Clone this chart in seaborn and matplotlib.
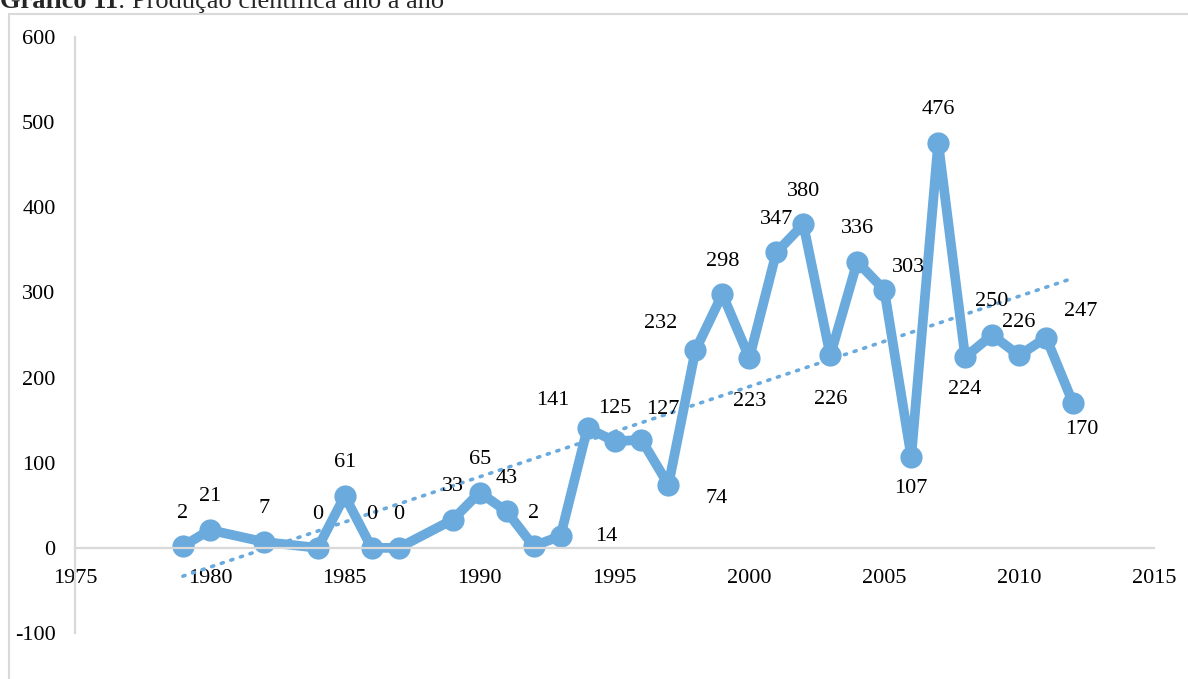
import numpy as np
import pandas as pd
import seaborn as sns
import matplotlib.pyplot as plt
from matplotlib.patches import Rectangle

years = [1979, 1980, 1982, 1984, 1985, 1986, 1987, 1989, 1990, 1991, 1992,
         1993, 1994, 1995, 1996, 1997, 1998, 1999, 2000, 2001, 2002, 2003,
         2004, 2005, 2006, 2007, 2008, 2009, 2010, 2011, 2012]
counts = [2, 21, 7, 0, 61, 0, 0, 33, 65, 43, 2,
          14, 141, 125, 127, 74, 232, 298, 223, 347, 380, 226,
          336, 303, 107, 476, 224, 250, 226, 247, 170]
# where each data label sits relative to its point (Excel-like)
label_pos = ['up', 'up', 'up', 'up', 'up', 'up', 'up', 'up', 'up', 'up', 'up',
             'right', 'upleft', 'up', 'upright2', 'right2', 'upleft', 'up', 'down', 'up', 'up', 'down',
             'up', 'upright', 'down2', 'up', 'down2', 'up', 'up', 'upright3', 'downright']
offsets = {'up': (0, 33), 'down': (0, -44), 'down2': (0, -32), 'right': (46, -1),
           'right2': (48, -14), 'upleft': (-35, 27), 'upright': (24, 22),
           'upright2': (21, 30), 'upright3': (35, 26), 'downright': (9, -26)}

df = pd.DataFrame({'ano': years, 'n': counts})

sns.set_theme(style='white')
plt.rcParams['font.family'] = ['Liberation Serif', 'DejaVu Serif']
plt.rcParams['axes.unicode_minus'] = False
color = '#6aaadd'

fig = plt.figure(figsize=(11.88, 6.79), dpi=100)
ax = fig.add_axes([75 / 1188, 1 - 633 / 679, (1154 - 75) / 1188, (633 - 37) / 679])

sns.regplot(data=df, x='ano', y='n', scatter=False, ci=None, ax=ax, color=color,
            line_kws=dict(linestyle=(0, (0.6, 2.2)), linewidth=2.6, dash_capstyle='round'))
sns.lineplot(data=df, x='ano', y='n', ax=ax, color=color, linewidth=7,
             marker='o', markersize=16, markeredgewidth=0)

for x, y, p in zip(years, counts, label_pos):
    dx, dy = offsets[p]
    ax.annotate(str(y), (x, y), xytext=(dx, dy), textcoords='offset pixels',
                ha='center', va='center', fontsize=16, color='black')

ax.set_xlim(1975, 2015)
ax.set_ylim(-100, 600)
ax.set_xticks(range(1975, 2016, 5))
ax.set_yticks(range(-100, 601, 100))
ax.set_xlabel('')
ax.set_ylabel('')
for s in ['top', 'right']:
    ax.spines[s].set_visible(False)
ax.spines['bottom'].set_position(('data', 0))
for s in ['bottom', 'left']:
    ax.spines[s].set_color('#d9d9d9')
    ax.spines[s].set_linewidth(1.6)
ax.tick_params(axis='x', length=0, pad=15, labelsize=16, labelcolor='black')
ax.tick_params(axis='y', length=0, pad=14, labelsize=16, labelcolor='black')

fig.patches.append(Rectangle((9 / 1188, -0.1), 1.2, 1 - 14 / 679 + 0.1,
                             transform=fig.transFigure, fill=False,
                             edgecolor='#d9d9d9', linewidth=1.5, zorder=0))
t = fig.text(0, 1 - 8 / 679, 'Gráfico 11', fontsize=19, va='baseline', ha='left',
             fontweight='bold')
fig.canvas.draw()
bb = t.get_window_extent()
fig.text(bb.x1 / fig.bbox.width, 1 - 8 / 679, ': Produção científica ano a ano',
         fontsize=19, va='baseline', ha='left')

fig.savefig('out.png', dpi=100)
